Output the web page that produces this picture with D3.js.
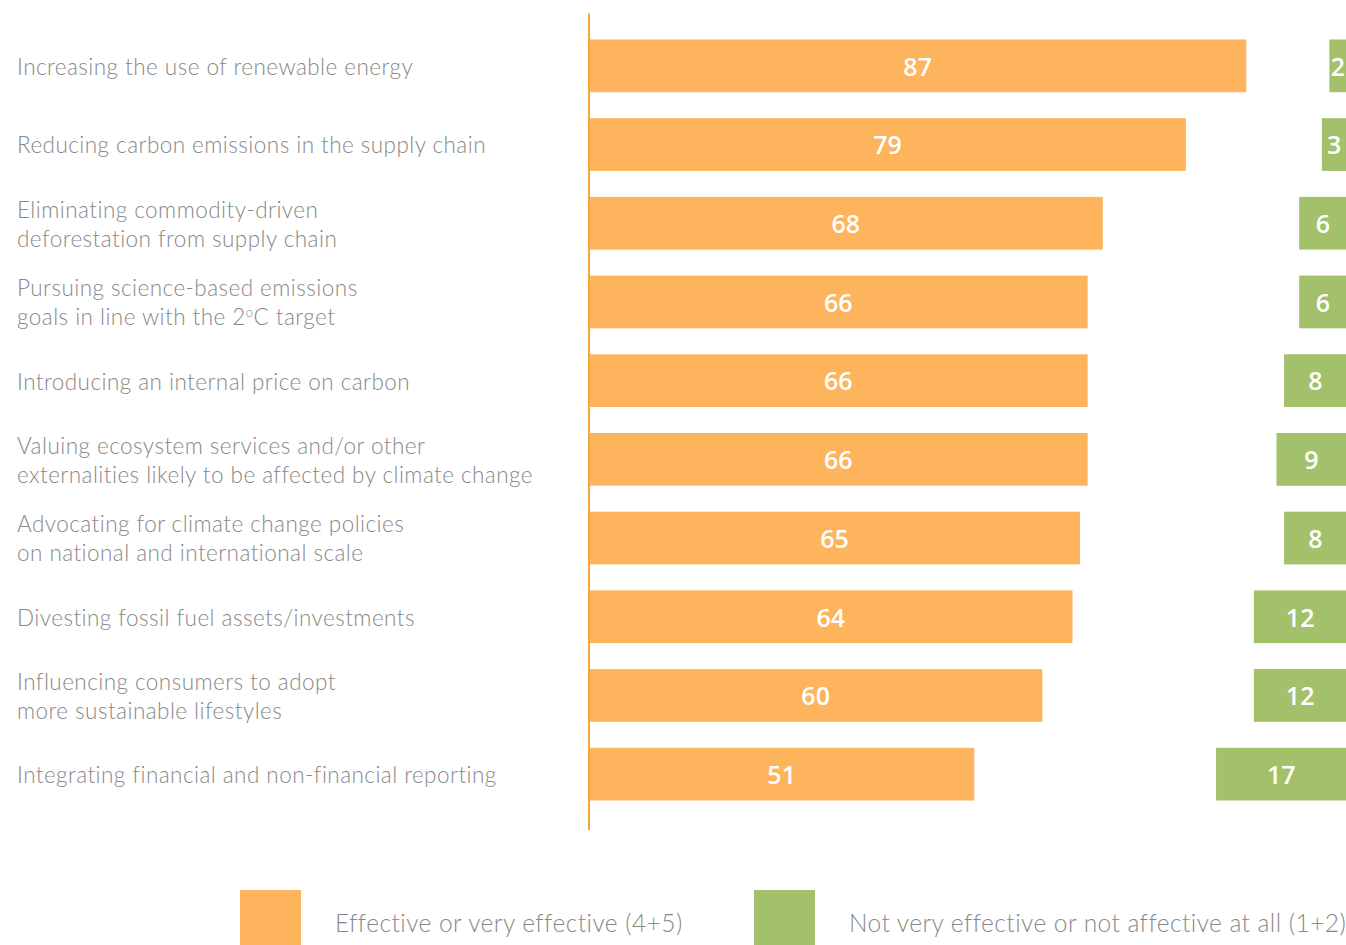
<!DOCTYPE html>
<html><head><meta charset="utf-8">
<script src="https://cdn.jsdelivr.net/npm/d3@7"></script>
<style>
html,body{margin:0;padding:0;background:#fff;overflow:hidden;}
svg{display:block;}
</style></head>
<body>
<svg id="chart" width="1346" height="945"></svg>
<script>
const categories = [
  ["Increasing the use of renewable energy"],
  ["Reducing carbon emissions in the supply chain"],
  ["Eliminating commodity-driven", "deforestation from supply chain"],
  ["Pursuing science-based emissions", "goals in line with the 2°C target"],
  ["Introducing an internal price on carbon"],
  ["Valuing ecosystem services and/or other", "externalities likely to be affected by climate change"],
  ["Advocating for climate change policies", "on national and international scale"],
  ["Divesting fossil fuel assets/investments"],
  ["Influencing consumers to adopt", "more sustainable lifestyles"],
  ["Integrating financial and non-financial reporting"]
];
const effective = [87, 79, 68, 66, 66, 66, 65, 64, 60, 51];
const notEffective = [2, 3, 6, 6, 8, 9, 8, 12, 12, 17];
const legendLabels = ["Effective or very effective (4+5)", "Not very effective or not affective at all (1+2)"];
const colors = ["#FDB45C", "#A3C16A"];

const svg = d3.select("#chart");
const ids = categories.map((d, i) => i);

const x = d3.scaleLinear().domain([0, 100]).range([589, 1344.5]);
const y = d3.scaleBand().domain(ids).range([26.5, 813.5]).paddingInner(0.33).paddingOuter(0.165);

// orange bars
svg.append("g").selectAll("rect").data(effective).join("rect")
  .attr("x", x(0)).attr("y", (d, i) => y(i))
  .attr("width", d => x(d) - x(0)).attr("height", y.bandwidth())
  .attr("fill", colors[0]);

// green bars (right aligned)
const gRight = x(100) + 2;
svg.append("g").selectAll("rect").data(notEffective).join("rect")
  .attr("x", d => x(100 - d)).attr("y", (d, i) => y(i))
  .attr("width", d => gRight - x(100 - d)).attr("height", y.bandwidth())
  .attr("fill", colors[1]);

// value labels
const valFont = "'Open Sans', 'Noto Sans', sans-serif";
svg.append("g").selectAll("text").data(effective).join("text")
  .attr("x", d => (x(0) + x(d)) / 2)
  .attr("y", (d, i) => y(i) + y.bandwidth() / 2 + 1)
  .attr("dy", "0.35em").attr("text-anchor", "middle")
  .attr("fill", "#fff").attr("font-family", valFont).attr("font-weight", 600).attr("font-size", 25)
  .text(d => d);
svg.append("g").selectAll("text").data(notEffective).join("text")
  .attr("x", d => (x(100 - d) + gRight) / 2)
  .attr("y", (d, i) => y(i) + y.bandwidth() / 2 + 1)
  .attr("dy", "0.35em").attr("text-anchor", "middle")
  .attr("fill", "#fff").attr("font-family", valFont).attr("font-weight", 600).attr("font-size", 25)
  .text(d => d);

// axis line
const yAxis = d3.axisLeft(y).tickSize(0).tickFormat("");
const ax = svg.append("g").attr("transform", `translate(${x(0)},0)`).call(yAxis);
ax.select(".domain").attr("d", `M0,13.5V830`).attr("stroke", "#F7A63A").attr("stroke-width", 2);

// category labels
const labFont = "Lato, 'Open Sans', sans-serif";
const lab = svg.append("g");
categories.forEach((lines, i) => {
  const cy = y(i) + y.bandwidth() / 2 + 1;
  const lh = 29;
  lines.forEach((ln, j) => {
    const ty = cy + (j - (lines.length - 1) / 2) * lh;
    const t = lab.append("text")
      .attr("x", 17).attr("y", ty).attr("dy", "0.35em")
      .attr("font-family", labFont).attr("font-size", 22.5).attr("font-weight", 300).attr("fill", "#888888")
      .attr("letter-spacing", 0.45);
    if (ln.includes("2°C")) {
      const parts = ln.split("°");
      t.append("tspan").text(parts[0]);
      t.append("tspan").attr("font-size", 13).attr("dy", -8).text("o");
      t.append("tspan").attr("dy", 8).text(parts[1]);
    } else t.text(ln);
  });
});

// legend
const lg = svg.append("g");
const legX = [240, 754];
legendLabels.forEach((l, i) => {
  lg.append("rect").attr("x", legX[i]).attr("y", 890).attr("width", 61).attr("height", 60).attr("fill", colors[i]);
  lg.append("text").attr("x", legX[i] + 95).attr("y", 923).attr("dy", "0.35em")
    .attr("font-family", labFont).attr("font-size", 24.5).attr("font-weight", 300).attr("fill", "#888888").attr("letter-spacing", 0.45)
    .text(l);
});
</script>
</body></html>
